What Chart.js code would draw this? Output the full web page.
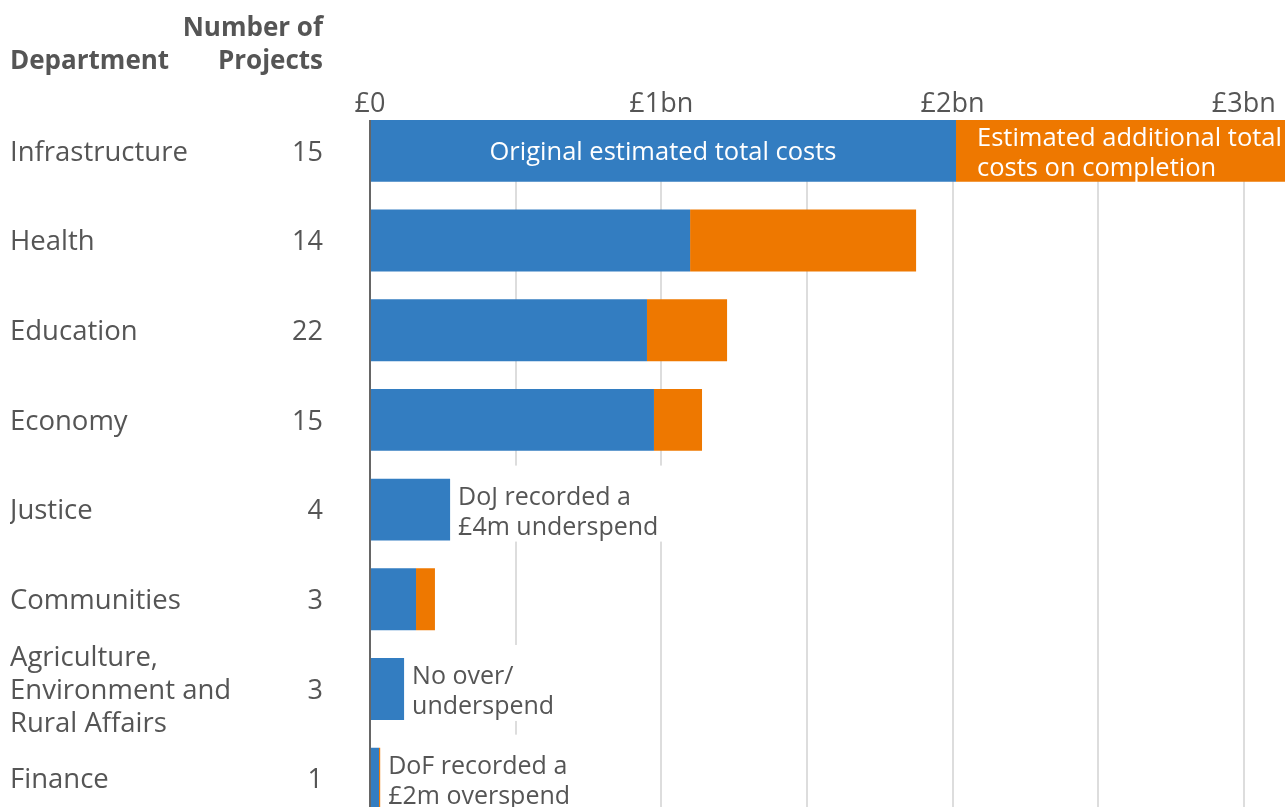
<!DOCTYPE html>
<html>
<head>
<meta charset="utf-8">
<script src="https://cdn.jsdelivr.net/npm/chart.js@4"></script>
<style>
  html, body { margin: 0; padding: 0; background: #fff; overflow: hidden; }
  #costChart { display: block; }
</style>
</head>
<body>
<canvas id="costChart" width="1330" height="843"></canvas>
<script>
const departments = [
  'Infrastructure',
  'Health',
  'Education',
  'Economy',
  'Justice',
  'Communities',
  ['Agriculture,', 'Environment and', 'Rural Affairs'],
  'Finance'
]
const projectCounts = [15, 14, 22, 15, 4, 3, 3, 1]

// £bn
const originalCosts = [2.012, 1.099, 0.951, 0.975, 0.275, 0.158, 0.117, 0.031]
const additionalCosts = [1.3, 0.776, 0.275, 0.165, 0, 0.065, 0, 0.004]

const seriesNames = ['Original estimated total costs', 'Estimated additional total costs on completion']
const barNotes = [null, null, null, null,
  ['DoJ recorded a', '£4m underspend'], null,
  ['No over/', 'underspend'],
  ['DoF recorded a', '£2m overspend']]

const FONT = "'Open Sans', sans-serif"
const GREY = '#555'

function tickText(v) {
  return v === 0 ? '£0' : '£' + v + 'bn'
}

const tablePlugin = {
  id: 'tablePlugin',
  beforeDatasetsDraw(chart) {
    const ctx = chart.ctx
    const x = chart.scales.x
    const firstBar = chart.getDatasetMeta(0).data[0]
    const top = firstBar.y - firstBar.height / 2
    ctx.save()
    ctx.strokeStyle = '#dddddd'
    ctx.lineWidth = 2
    x.ticks.forEach((t) => {
      if (t.value === 0) return
      const px = Math.round(x.getPixelForValue(t.value))
      ctx.beginPath()
      ctx.moveTo(px, top)
      ctx.lineTo(px, chart.chartArea.bottom)
      ctx.stroke()
    })
    // tick labels for whole £bn
    ctx.fillStyle = GREY
    ctx.font = '27px ' + FONT
    ctx.textAlign = 'center'
    ctx.textBaseline = 'middle'
    x.ticks.forEach((t) => {
      if (t.value % 1 !== 0) return
      ctx.fillText(tickText(t.value), x.getPixelForValue(t.value), 104)
    })
    ctx.restore()
  },
  afterDatasetsDraw(chart) {
    const ctx = chart.ctx
    const x = chart.scales.x
    const y = chart.scales.y
    const blue = chart.getDatasetMeta(0).data
    const orange = chart.getDatasetMeta(1).data
    ctx.save()

    // axis line at zero
    const x0 = x.getPixelForValue(0)
    ctx.strokeStyle = '#666'
    ctx.lineWidth = 2
    ctx.beginPath()
    ctx.moveTo(x0, blue[0].y - blue[0].height / 2)
    ctx.lineTo(x0, chart.chartArea.bottom)
    ctx.stroke()

    // header + project counts
    ctx.fillStyle = GREY
    ctx.font = 'bold 26px ' + FONT
    ctx.textBaseline = 'middle'
    ctx.textAlign = 'left'
    ctx.fillText('Department', 10, 62)
    ctx.textAlign = 'right'
    ctx.fillText('Number of', 323, 29)
    ctx.fillText('Projects', 323, 62)

    ctx.font = '27px ' + FONT
    projectCounts.forEach((n, i) => {
      ctx.fillText(String(n), 323, y.getPixelForValue(i) + 2)
    })

    // series labels inside the first bar
    ctx.fillStyle = '#fff'
    ctx.font = '25.5px ' + FONT
    ctx.textAlign = 'center'
    ctx.fillText(seriesNames[0], (blue[0].base + blue[0].x) / 2, blue[0].y + 2)
    ctx.textAlign = 'left'
    ctx.fillText('Estimated additional total', orange[0].base + 21, orange[0].y - 12)
    ctx.fillText('costs on completion', orange[0].base + 21, orange[0].y + 18)

    // notes next to small bars
    ctx.font = '25px ' + FONT
    barNotes.forEach((note, i) => {
      if (!note) return
      const end = Math.max(blue[i].x, orange[i].x)
      const tx = end + 8
      const w = Math.max(...note.map((s) => ctx.measureText(s).width))
      ctx.fillStyle = '#fff'
      ctx.fillRect(tx - 3, blue[i].y - 44, w + 8, 76)
      ctx.fillStyle = GREY
      ctx.fillText(note[0], tx, blue[i].y - 12)
      ctx.fillText(note[1], tx, blue[i].y + 18)
    })
    ctx.restore()
  }
}

new Chart(document.getElementById('costChart'), {
  type: 'bar',
  data: {
    labels: departments,
    datasets: [
      {
        label: seriesNames[0],
        data: originalCosts,
        backgroundColor: '#337dc1',
        borderWidth: 0
      },
      {
        label: seriesNames[1],
        data: additionalCosts,
        backgroundColor: '#ee7800',
        borderWidth: 0
      }
    ]
  },
  options: {
    indexAxis: 'y',
    responsive: false,
    animation: false,
    layout: { padding: { left: 10, right: 28, top: 0, bottom: 0 } },
    datasets: { bar: { categoryPercentage: 1, barPercentage: 0.69 } },
    plugins: {
      legend: { display: false },
      tooltip: { enabled: false }
    },
    scales: {
      x: {
        position: 'top',
        stacked: true,
        min: 0,
        max: 3.2,
        grid: { display: false, drawTicks: false },
        border: { display: false },
        afterFit: (s) => { s.height = 106 },
        ticks: {
          display: false,
          stepSize: 0.5,
          includeBounds: false
        }
      },
      y: {
        stacked: true,
        grid: { display: false, drawTicks: false },
        border: { display: false },
        afterFit: (s) => { s.width = 360 },
        ticks: {
          autoSkip: false,
          crossAlign: 'far',
          labelOffset: 2,
          color: GREY,
          font: { family: FONT, size: 27.5, lineHeight: 1.2 }
        }
      }
    }
  },
  plugins: [tablePlugin]
})
</script>
</body>
</html>
